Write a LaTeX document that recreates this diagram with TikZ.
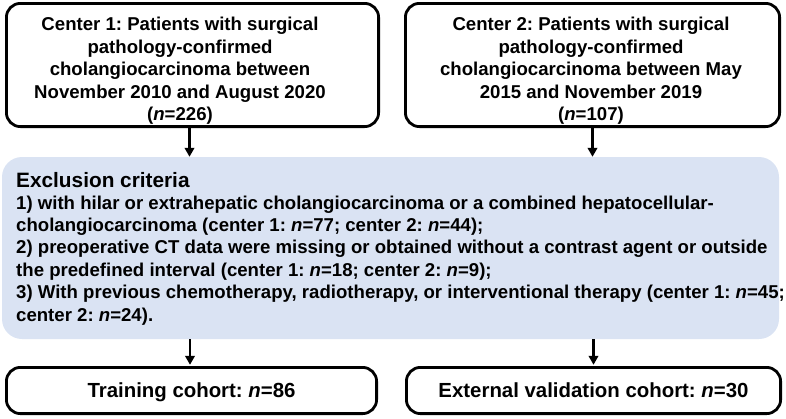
\documentclass[tikz,border=0pt]{standalone}
\usepackage{fontspec}
\setmainfont{Liberation Sans}
\frenchspacing
\usetikzlibrary{arrows.meta,calc}
\definecolor{exblue}{RGB}{218,227,243}
\begin{document}
\begin{tikzpicture}[x=1pt,y=-1pt,
  box/.style={draw=black, line width=2.8pt, rounded corners=14pt, inner sep=0pt},
  toptxt/.style={font=\bfseries\fontsize{18.6}{22.5}\selectfont, align=center, inner sep=0pt},
  bodytxt/.style={font=\bfseries\fontsize{18.6}{22.4}\selectfont, align=left, inner sep=0pt},
  headtxt/.style={font=\bfseries\fontsize{20.8}{24}\selectfont, inner sep=0pt},
  cohort/.style={box, font=\bfseries\fontsize{20.4}{24}\selectfont, text depth=0pt},
  arr/.style={line width=2.3pt, -{Triangle[width=9.5pt,length=9pt]}}
]
\useasboundingbox (0,0) rectangle (786,418);
% top boxes
\node[box, minimum width=372.2pt, minimum height=123.2pt] (c1) at (192.5,65) {};
\node[box, minimum width=374.2pt, minimum height=123.2pt] (c2) at (592.5,65) {};
\node[toptxt] (c1t) at (180,70.7) {Center 1: Patients with surgical\\pathology-confirmed\\cholangiocarcinoma between\\November 2010 and August 2020\\(\textit{n}=226)};
\node[toptxt] (c2t) at (591,70.7) {Center 2: Patients with surgical\\pathology-confirmed\\cholangiocarcinoma between May\\2015 and November 2019\\(\textit{n}=107)};
% exclusion box
\node[fill=exblue, rounded corners=20pt, minimum width=777pt, minimum height=182pt, inner sep=0pt] (ex) at (390.5,248) {};
\node[headtxt, anchor=base west] (exh) at (16,187) {Exclusion criteria};
\node[bodytxt, anchor=north west] (exb) at (16,195.5) {1) with hilar or extrahepatic cholangiocarcinoma or a combined hepatocellular-\\
cholangiocarcinoma (center 1: \textit{n}=77; center 2: \textit{n}=44);\\
2) preoperative CT data were missing or obtained without a contrast agent or outside\\
the predefined interval (center 1: \textit{n}=18; center 2: \textit{n}=9);\\
3) With previous chemotherapy, radiotherapy, or interventional therapy (center 1: \textit{n}=45;\\
center 2: \textit{n}=24).};
% cohort boxes
\node[cohort, minimum width=370.2pt, minimum height=46.2pt] (t1) at (191.5,390.5) {Training cohort: \textit{n}=86};
\node[cohort, minimum width=374.2pt, minimum height=46.2pt] (t2) at (593.5,390.5) {External validation cohort: \textit{n}=30};
% arrows
\draw[arr] ([xshift=-3pt]c1.south) -- ([xshift=-3pt]c1.south |- ex.north);
\draw[arr] (c2.south) -- (c2.south |- ex.north);
\draw[arr, shorten >=1.2pt] ([xshift=-1.5pt]t1.north |- ex.south) -- ([xshift=-1.5pt]t1.north);
\draw[arr, shorten >=1.2pt] (t2.north |- ex.south) -- (t2.north);
\end{tikzpicture}
\end{document}
